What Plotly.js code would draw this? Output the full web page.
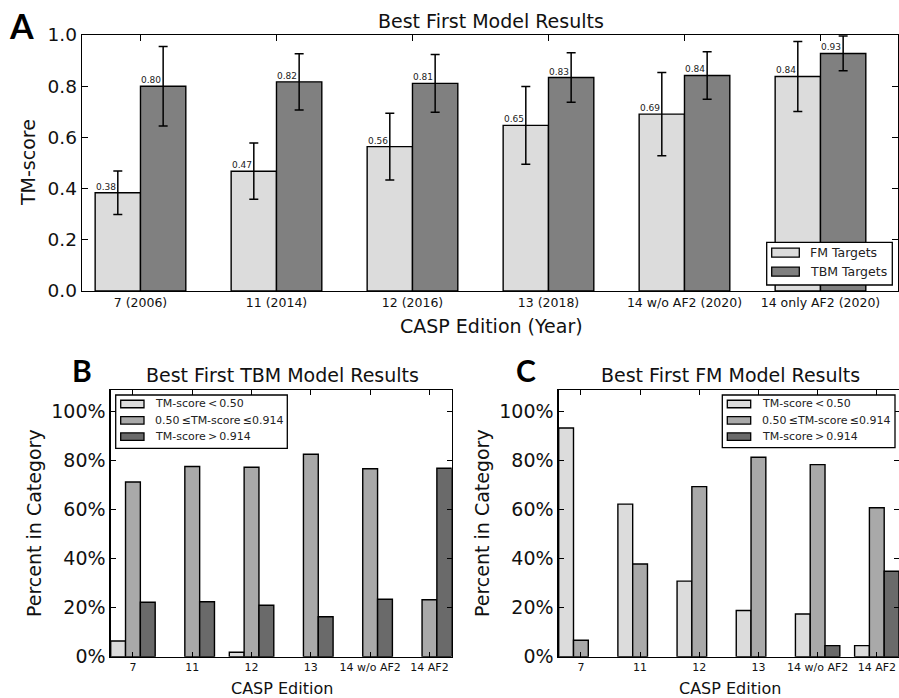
<!DOCTYPE html>
<html>
<head>
<meta charset="utf-8">
<script src="https://cdn.plot.ly/plotly-3.0.1.min.js"></script>
<style>
  html, body { margin: 0; padding: 0; background: #fff; }
  #chart { width: 899px; height: 698px; }
</style>
</head>
<body>
<div id="chart"></div>
<script>
// ---- Panel A: mean TM-score of best first models per CASP edition ----
const editionsA = ['7 (2006)', '11 (2014)', '12 (2016)', '13 (2018)', '14 w/o AF2 (2020)', '14 only AF2 (2020)'];
const fmScore  = [0.384, 0.468, 0.564, 0.647, 0.691, 0.838];
const fmErr    = [0.085, 0.110, 0.130, 0.152, 0.163, 0.137];
const tbmScore = [0.800, 0.817, 0.811, 0.834, 0.842, 0.928];
const tbmErr   = [0.155, 0.110, 0.113, 0.097, 0.093, 0.068];

// ---- Panels B and C: share of targets per TM-score bin (percent) ----
const editionsBC = ['7', '11', '12', '13', '14 w/o AF2', '14 AF2'];
const tbmLow  = [6.4, 0, 1.8, 0, 0, 0];
const tbmMid  = [71.2, 77.5, 77.2, 82.5, 76.6, 23.2];
const tbmHigh = [22.2, 22.4, 21.0, 16.3, 23.4, 76.8];
const fmLow   = [93.2, 62.2, 30.8, 18.8, 17.4, 4.5];
const fmMid   = [6.7, 37.8, 69.3, 81.3, 78.3, 60.7];
const fmHigh  = [0, 0, 0, 0, 4.5, 34.8];

const binNames = ['TM-score\u2009<\u20090.50', '0.50\u2009\u2264TM-score\u2009\u22640.914', 'TM-score\u2009>\u20090.914'];
const setNamesA = ['FM Targets', 'TBM Targets'];

const W = 899, H = 698;
const FONT = 'DejaVu Sans, sans-serif';
const INK = '#111';
const C_LIGHT = '#dcdcdc', C_GRAY = '#808080', C_MID = '#a9a9a9', C_DARK = '#6a6a6a';

// pixel -> paper helpers
const px = x => x / W;
const py = y => 1 - y / H;

// outline only bars that have height
const edge = vals => ({color: '#000', width: vals.map(v => (v > 0 ? 1.4 : 0))});

const traces = [];

// Panel A bars (grouped)
[[fmScore, fmErr, C_LIGHT, setNamesA[0]], [tbmScore, tbmErr, C_GRAY, setNamesA[1]]].forEach(([vals, err, col, nm]) => {
  traces.push({
    type: 'bar', x: editionsA, y: vals, name: nm, xaxis: 'x', yaxis: 'y',
    marker: {color: col, line: edge(vals)},
    error_y: {type: 'data', array: err, visible: true, color: '#000', thickness: 1.5, width: 4.5},
    showlegend: false, hoverinfo: 'skip'
  });
});

// Panels B / C bars, three bins side by side
const binCols = [C_LIGHT, C_MID, C_DARK];
const binOffsets = [-0.375, -0.125, 0.125];
[[tbmLow, tbmMid, tbmHigh, 'x2', 'y2'], [fmLow, fmMid, fmHigh, 'x3', 'y3']].forEach(([lo, mid, hi, xa, ya]) => {
  [lo, mid, hi].forEach((vals, k) => {
    traces.push({
      type: 'bar', x: editionsBC, y: vals, name: binNames[k], xaxis: xa, yaxis: ya,
      width: 0.25, offset: binOffsets[k],
      marker: {color: binCols[k], line: edge(vals)},
      showlegend: false, hoverinfo: 'skip'
    });
  });
});

const annotations = [];
const shapes = [];

// value labels above panel A bars, left-aligned on each bar
editionsA.forEach((_, i) => {
  [[fmScore, -1 / 3], [tbmScore, 0]].forEach(([vals, off]) => {
    annotations.push({
      xref: 'x', yref: 'y', x: i + off, y: vals[i], text: vals[i].toFixed(2),
      xanchor: 'left', yanchor: 'bottom', showarrow: false, xshift: -1, yshift: -1,
      font: {family: FONT, size: 9, color: '#222'}
    });
  });
});

function label(text, x, y, size, opts) {
  annotations.push(Object.assign({
    xref: 'paper', yref: 'paper', x: px(x), y: py(y), text: text, showarrow: false,
    xanchor: 'center', yanchor: 'middle', font: {family: FONT, size: size, color: INK}
  }, opts || {}));
}

// panel letters
const LETTER = {family: 'Lato, Liberation Sans, sans-serif', color: '#000', weight: 700};
label('A', 21, 25, 34, {font: Object.assign({size: 34}, LETTER)});
label('B', 82, 370, 30, {font: Object.assign({size: 30}, LETTER)});
label('C', 526, 370, 30, {font: Object.assign({size: 30}, LETTER)});

// panel titles
label('Best First Model Results', 490.5, 21, 19);
label('Best First TBM Model Results', 282, 375, 19);
label('Best First FM Model Results', 730, 375, 19);

// axis titles
label('TM-score', 28, 163, 19, {textangle: -90});
label('CASP Edition (Year)', 491, 326, 19);
label('Percent in Category', 34, 523, 19, {textangle: -90});
label('Percent in Category', 482, 523, 19, {textangle: -90});
label('CASP Edition', 282, 688, 16);
label('CASP Edition', 730, 688, 16);

// legend boxes drawn as shapes + text
function legend(box, swX, rows, swH, textX, names, cols, size) {
  shapes.push({type: 'rect', xref: 'paper', yref: 'paper', layer: 'above',
    x0: px(box[0]), x1: px(box[1]), y0: py(box[3]), y1: py(box[2]),
    fillcolor: '#fff', line: {color: '#000', width: 1.3}});
  names.forEach((nm, k) => {
    shapes.push({type: 'rect', xref: 'paper', yref: 'paper', layer: 'above',
      x0: px(swX[0]), x1: px(swX[1]), y0: py(rows[k] + swH / 2), y1: py(rows[k] - swH / 2),
      fillcolor: cols[k], line: {color: '#000', width: 1.3}});
    label(nm, textX, rows[k], size, {xanchor: 'left', font: {family: FONT, size: size, color: '#222'}});
  });
}
legend([766.7, 892.3, 242.3, 285], [771.7, 799.3], [252.7, 271.7], 9, 808, setNamesA, [C_LIGHT, C_GRAY], 12.5);
legend([115.7, 287.3, 395, 448.3], [120.7, 144], [404, 420.3, 436.7], 7.5, 152.5, binNames, binCols, 11);
legend([722.3, 895, 395, 447.7], [727.3, 750.7], [404, 420.3, 436.7], 7.5, 759.5, binNames, binCols, 11);

const axBase = {
  showline: true, linecolor: '#000', linewidth: 1.3, mirror: 'allticks',
  ticks: 'inside', tickcolor: '#000', tickwidth: 1, showgrid: false, zeroline: false,
  fixedrange: true
};

const layout = {
  width: W, height: H, margin: {l: 0, r: 0, t: 0, b: 0},
  paper_bgcolor: '#fff', plot_bgcolor: '#fff',
  barmode: 'group', bargap: 1 / 3, bargroupgap: 0,
  showlegend: false,
  font: {family: FONT, color: INK},
  xaxis: Object.assign({}, axBase, {
    domain: [px(82), px(898)], anchor: 'y', type: 'category', range: [-0.43, 5.57],
    ticklen: 6, tickfont: {family: FONT, size: 12.5, color: INK}
  }),
  yaxis: Object.assign({}, axBase, {
    domain: [py(291), py(35)], anchor: 'x', range: [0, 1], dtick: 0.2, tickformat: '.1f',
    ticklen: 6, tickfont: {family: FONT, size: 18.5, color: INK}
  }),
  xaxis2: Object.assign({}, axBase, {
    domain: [px(110.7), px(451.7)], anchor: 'y2', type: 'category', range: [-0.375, 5.375],
    ticklen: 5, tickfont: {family: FONT, size: 11, color: INK}
  }),
  yaxis2: Object.assign({}, axBase, {
    domain: [py(656.7), py(390)], anchor: 'x2', range: [0, 108.7], dtick: 20, ticksuffix: '%',
    ticklen: 5, tickfont: {family: FONT, size: 19, color: INK}
  }),
  xaxis3: Object.assign({}, axBase, {
    domain: [px(558.7), 1], anchor: 'y3', type: 'category', range: [-0.375, 5.375],
    ticklen: 5, tickfont: {family: FONT, size: 11, color: INK}
  }),
  yaxis3: Object.assign({}, axBase, {
    domain: [py(656.7), py(390)], anchor: 'x3', range: [0, 108.7], dtick: 20, ticksuffix: '%',
    ticklen: 5, tickfont: {family: FONT, size: 19, color: INK}
  }),
  annotations: annotations,
  shapes: shapes
};

Plotly.newPlot('chart', traces, layout, {staticPlot: true, displayModeBar: false});
</script>
</body>
</html>
